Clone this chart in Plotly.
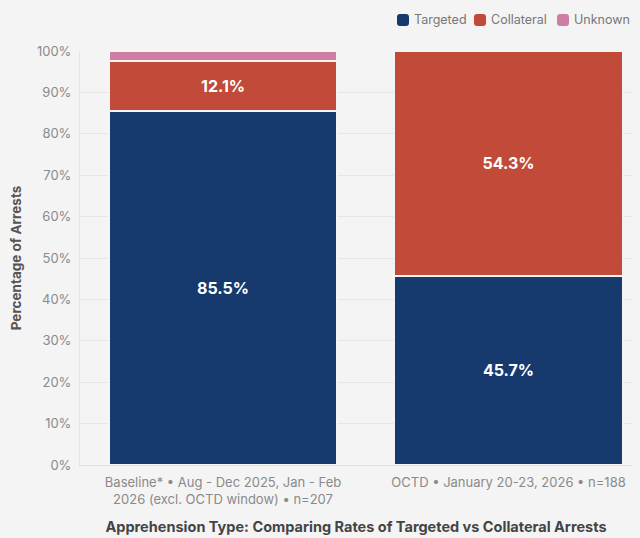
import plotly.graph_objects as go

categories = [
    "Baseline* • Aug - Dec 2025, Jan - Feb<br>2026 (excl. OCTD window) • n=207",
    "OCTD • January 20-23, 2026 • n=188",
]
targeted = [85.5, 45.7]
collateral = [12.1, 54.3]
unknown = [2.4, 0.0]

series = [
    ("Targeted", targeted, "#163a6e"),
    ("Collateral", collateral, "#c14a38"),
    ("Unknown", unknown, "#cc7fa3"),
]

W, H = 640, 538
L, R, T, B = 80, 8, 51, 73
x_pos = [0, 1]

fig = go.Figure()
for name, vals, color in series:
    fig.add_trace(go.Bar(
        x=x_pos, y=vals, name=name,
        marker=dict(color=color, line=dict(color="#f4f4f4", width=1.5)),
        width=0.8,
        text=[f"{v:.1f}%" if v >= 5 else "" for v in vals],
        textposition="inside", insidetextanchor="middle",
        textfont=dict(color="white", size=16, family="Inter", weight="bold"),
        hoverinfo="skip", showlegend=False,
    ))

# Custom legend: rounded swatches + labels along the top-right
pw, ph = W - L - R, H - T - B


def px_to_paper(px, py):
    return (px - L) / pw, (H - B - py) / ph


def P(px, py):
    a, b = px_to_paper(px, py)
    return f"{a:.5f},{b:.5f}"


legend_x = [397, 474, 557]
shapes = []
annotations = []
for (name, _, color), lx in zip(series, legend_x):
    s, r = 12, 3
    x0, y0 = lx, 14
    path = (f"M {P(x0 + r, y0)} L {P(x0 + s - r, y0)} Q {P(x0 + s, y0)} {P(x0 + s, y0 + r)} "
            f"L {P(x0 + s, y0 + s - r)} Q {P(x0 + s, y0 + s)} {P(x0 + s - r, y0 + s)} "
            f"L {P(x0 + r, y0 + s)} Q {P(x0, y0 + s)} {P(x0, y0 + s - r)} "
            f"L {P(x0, y0 + r)} Q {P(x0, y0)} {P(x0 + r, y0)} Z")
    shapes.append(dict(type="path", xref="paper", yref="paper", path=path,
                       fillcolor=color, line=dict(width=0), layer="above"))
    ax, ay = px_to_paper(lx + 15, 20)
    annotations.append(dict(x=ax, y=ay, xref="paper", yref="paper", text=name,
                            showarrow=False, xanchor="left", yanchor="middle",
                            font=dict(size=12.5, color="#777", family="Inter")))

fig.update_layout(
    barmode="stack",
    width=W, height=H,
    paper_bgcolor="#f4f4f4", plot_bgcolor="#f4f4f4",
    margin=dict(l=L, r=R, t=T, b=B, autoexpand=False),
    font=dict(family="Inter", color="#8a8a8a", size=13),
    showlegend=False,
    shapes=shapes,
    annotations=annotations,
    xaxis=dict(
        tickmode="array", tickvals=x_pos, ticktext=categories,
        range=[-0.501, 1.4326], showgrid=False, zeroline=False,
        showline=True, linecolor="#dedede", ticks="",
        ticklabelstandoff=5,
        tickfont=dict(size=13, color="#8a8a8a"),
        title=dict(text="<b>Apprehension Type: Comparing Rates of Targeted vs Collateral Arrests</b>",
                   font=dict(size=14.5, color="#444"), standoff=16),
    ),
    yaxis=dict(
        range=[0, 100], dtick=10, ticksuffix="%",
        showgrid=True, gridcolor="#e6e6e6", zeroline=False,
        showline=True, linecolor="#e6e6e6",
        ticklabelstandoff=5,
        tickfont=dict(size=13, color="#8a8a8a"),
        title=dict(text="<b>Percentage of Arrests</b>", font=dict(size=13.5, color="#555"), standoff=12),
    ),
)

fig.write_html("out.html")
